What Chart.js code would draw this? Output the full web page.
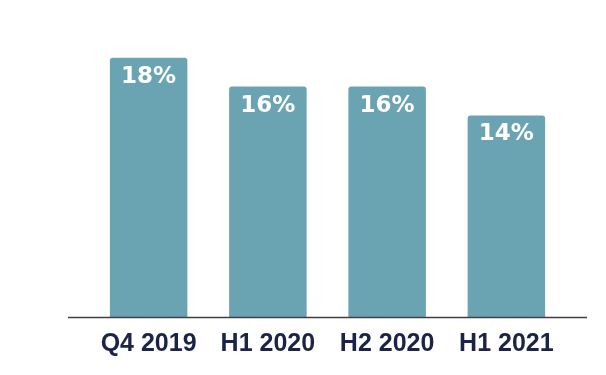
<!DOCTYPE html>
<html>
<head>
<meta charset="utf-8">
<script src="https://cdn.jsdelivr.net/npm/chart.js@4"></script>
<style>
html,body{margin:0;padding:0;background:#fff;}
#wrap{width:606px;height:375px;position:relative;}
</style>
</head>
<body>
<div id="wrap"><canvas id="c" width="606" height="375"></canvas></div>
<script>
const categories = ["Q4 2019", "H1 2020", "H2 2020", "H1 2021"];
const shares = [18, 16, 16, 14];
const valueLabels = ["18%", "16%", "16%", "14%"];

const barColor = "#6aa4b3";
const textColor = "#1b2446";

const labelPlugin = {
  id: "labels",
  afterDatasetsDraw(chart) {
    const ctx = chart.ctx;
    const meta = chart.getDatasetMeta(0);
    ctx.save();
    ctx.fillStyle = "#ffffff";
    ctx.font = "bold 23px 'DejaVu Sans'";
    ctx.textAlign = "center";
    ctx.textBaseline = "middle";
    meta.data.forEach((bar, i) => {
      ctx.fillText(valueLabels[i], bar.x, bar.y + 19);
    });
    ctx.restore();
  },
  afterDraw(chart) {
    const ctx = chart.ctx;
    const a = chart.chartArea;
    ctx.save();
    ctx.strokeStyle = "#404040";
    ctx.lineWidth = 1.5;
    ctx.beginPath();
    ctx.moveTo(a.left - 21, a.bottom + 0.5);
    ctx.lineTo(a.right + 21, a.bottom + 0.5);
    ctx.stroke();
    ctx.restore();
  }
};

new Chart(document.getElementById("c"), {
  type: "bar",
  data: {
    labels: categories,
    datasets: [{
      data: shares,
      backgroundColor: barColor,
      borderRadius: {topLeft: 3, topRight: 3, bottomLeft: 0, bottomRight: 0},
      borderSkipped: "bottom",
      categoryPercentage: 1,
      barPercentage: 0.65
    }]
  },
  options: {
    responsive: false,
    animation: false,
    layout: {padding: {left: 89, right: 40, top: 29, bottom: 4}},
    plugins: {legend: {display: false}, tooltip: {enabled: false}},
    scales: {
      x: {
        grid: {display: false, drawTicks: false},
        border: {display: false},
        ticks: {color: textColor, padding: 12, font: {family: "'Liberation Sans'", weight: "bold", size: 25}}
      },
      y: {
        display: false,
        min: 0,
        max: 20
      }
    }
  },
  plugins: [labelPlugin]
});
</script>
</body>
</html>
